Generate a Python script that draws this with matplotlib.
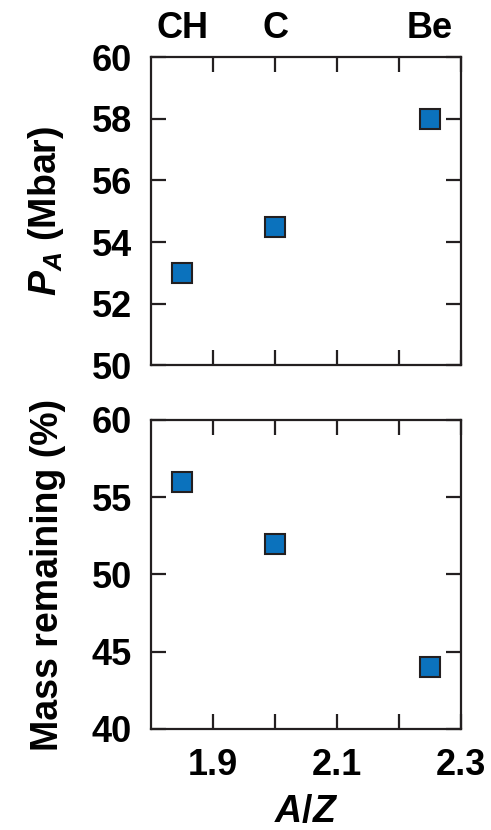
import numpy as np
import matplotlib
matplotlib.use("Agg")
import matplotlib.pyplot as plt

plt.rcParams['font.family'] = ['Liberation Sans', 'DejaVu Sans']
plt.rcParams['font.weight'] = 'bold'
plt.rcParams['mathtext.fontset'] = 'custom'
plt.rcParams['mathtext.it'] = 'Liberation Sans:italic:bold'
plt.rcParams['mathtext.rm'] = 'Liberation Sans'
plt.rcParams['mathtext.bf'] = 'Liberation Sans:bold'

# ablator materials and their A/Z
materials = ['CH', 'C', 'Be']
a_over_z = [1.85, 2.0, 2.25]

# ablation pressure (Mbar) and remaining mass (%)
pressure = [53.0, 54.5, 58.0]
mass_remaining = [56.0, 52.0, 44.0]

x_ticks = [1.9, 2.0, 2.1, 2.2, 2.3]
x_labels = ['1.9', '', '2.1', '', '2.3']

ink = '#231f20'
blue = '#0b72bd'
fs = 26
fs_label = 27

fig = plt.figure(figsize=(4.91, 8.30), dpi=100)
ax1 = fig.add_axes([0.3085, 0.5600, 0.6300, 0.3710])
ax2 = fig.add_axes([0.3085, 0.1217, 0.6300, 0.3723])


def style_axes(ax):
    ax.set_xlim(1.8, 2.3)
    for sp in ax.spines.values():
        sp.set_color(ink)
        sp.set_linewidth(1.6)
    ax.tick_params(which='both', direction='in', length=10.5, width=1.6,
                   color=ink, top=True, right=True, labelsize=fs, pad=14)
    ax.set_xticks(x_ticks)
    ax.set_xticklabels([])


def draw_points(ax, vals):
    ax.plot(a_over_z, vals, linestyle='none', marker='s', markersize=14,
            markerfacecolor=blue, markeredgecolor=ink, markeredgewidth=1.5,
            clip_on=False, zorder=5)


# top panel: ablation pressure
style_axes(ax1)
draw_points(ax1, pressure)
ax1.set_ylim(50, 60)
ax1.set_yticks(np.arange(50, 61, 2))
ax1.set_ylabel(r'$P_A$ (Mbar)', fontsize=fs_label, fontweight='bold')
ax1.yaxis.set_label_coords(-0.275, 0.5)
for name, x in zip(materials, a_over_z):
    ax1.text(x, 1.062, name, transform=ax1.get_xaxis_transform(),
             ha='center', va='baseline', fontsize=fs, fontweight='bold')

# bottom panel: mass remaining
style_axes(ax2)
draw_points(ax2, mass_remaining)
ax2.set_ylim(40, 60)
ax2.set_yticks(np.arange(40, 61, 5))
ax2.set_xticklabels(x_labels)
ax2.set_ylabel('Mass remaining (%)', fontsize=fs_label, fontweight='bold')
ax2.yaxis.set_label_coords(-0.275, 0.5)
ax2.set_xlabel(r'$A\mathrm{/}Z$', fontsize=fs_label, fontweight='bold')
ax2.xaxis.set_label_coords(0.5, -0.212)

fig.savefig('out.png', dpi=100)
